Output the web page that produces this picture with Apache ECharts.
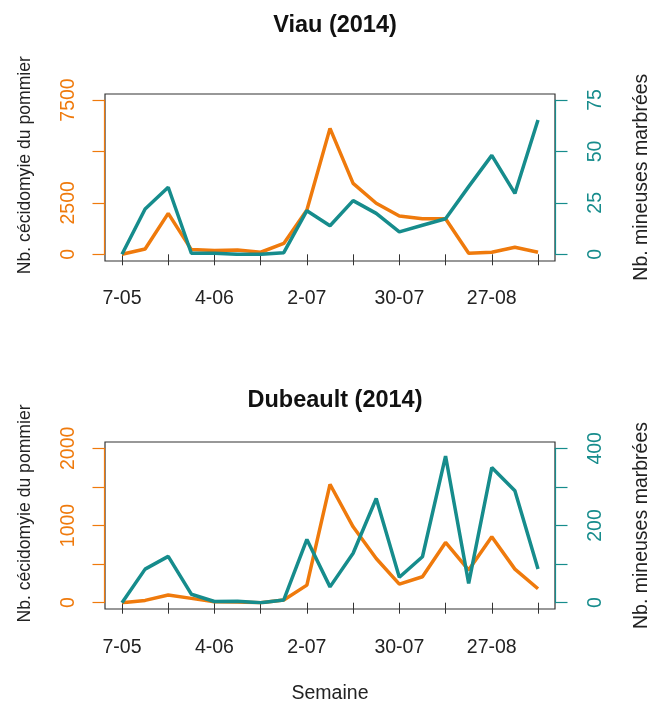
<!DOCTYPE html>
<html>
<head>
<meta charset="utf-8">
<script src="https://cdn.jsdelivr.net/npm/echarts@6/dist/echarts.min.js"></script>
<style>
html,body{margin:0;padding:0;background:#fff;}
#chart{width:650px;height:706px;}
</style>
</head>
<body>
<div id="chart"></div>
<script>
// ---- data ----
var weeks = ['7-05','14-05','21-05','28-05','4-06','11-06','18-06','25-06','2-07','9-07','16-07','23-07','30-07','6-08','13-08','20-08','27-08','3-09','10-09'];
var viauCecid = [0, 260, 1990, 230, 180, 210, 100, 530, 2150, 6120, 3450, 2480, 1860, 1730, 1730, 50, 100, 340, 100];
var viauMineuse = [0, 22, 32.6, 0.5, 0.5, 0, 0, 0.8, 21.2, 13.9, 26.1, 19.9, 10.9, 14.1, 17.3, 32.9, 48.1, 29.6, 65.3];
var dubCecid = [0, 30, 100, 56, 13, 9, 0, 34, 228, 1534, 983, 573, 241, 336, 780, 422, 853, 435, 181];
var dubMineuse = [0, 87, 120, 22, 3, 4, 0, 7, 164, 41, 128, 270, 66, 119, 380, 50, 350, 290, 87];
var titles = ['Viau (2014)', 'Dubeault (2014)'];
var viauLeftLabels = [0, 2500, 7500];
var viauRightLabels = [0, 25, 50, 75];
var dubLeftLabels = [0, 1000, 2000];
var dubRightLabels = [0, 200, 400];
var leftName = 'Nb. cécidomyie du pommier';
var rightName = 'Nb. mineuses marbrées';
var xName = 'Semaine';

// ---- styling ----
var ORANGE = '#EF7A0C';
var TEAL = '#168C8C';
var FONT = 'Liberation Sans';
var FS = 19.5;

function boxAxes(gi) {
  return {
    x: {type: 'value', gridIndex: gi, show: false, min: 0, max: 1},
    y: {type: 'value', gridIndex: gi, show: false, min: 0, max: 1}
  };
}

function xAxisFor(gi, showName) {
  return {
    type: 'category', gridIndex: gi, data: weeks, boundaryGap: false,
    offset: 6.7,
    axisLine: {show: false},
    axisTick: {show: true, length: 11, interval: function (i) { return i % 2 === 0; }, lineStyle: {color: '#333', width: 1}},
    axisLabel: {interval: function (i) { return i % 4 === 0; }, color: '#222', fontSize: FS, fontFamily: FONT, margin: 28},
    name: showName ? xName : '', nameLocation: 'middle', nameGap: 74,
    nameTextStyle: {color: '#222', fontSize: FS, fontFamily: FONT},
    splitLine: {show: false}
  };
}

function yAxisFor(gi, pos, max, interval, labels, color, name) {
  var isLeft = pos === 'left';
  return {
    type: 'value', gridIndex: gi, position: pos, min: 0, max: max, interval: interval,
    offset: 17.5,
    axisLine: {show: true, lineStyle: {color: color, width: 1.2}},
    axisTick: {show: true, length: 12, lineStyle: {color: color, width: 1.2}},
    axisLabel: {
      rotate: 90, color: color, fontSize: FS, fontFamily: FONT, margin: isLeft ? 26 : 30,
      formatter: function (v) { return labels.indexOf(v) >= 0 ? String(v) : ''; }
    },
    splitLine: {show: false},
    name: name, nameLocation: 'middle', nameRotate: 90, nameGap: isLeft ? 70 : 76,
    nameTextStyle: {color: '#222', fontSize: isLeft ? 17.6 : FS, fontFamily: FONT, padding: isLeft ? [0, 0, 0, 24] : 0}
  };
}

var b0 = boxAxes(0), b1 = boxAxes(1);

var option = {
  backgroundColor: '#fff',
  animation: false,
  title: [
    {text: titles[0], left: 330, top: 9, textAlign: 'center', textStyle: {fontSize: 23.5, fontWeight: 'bold', fontFamily: FONT, color: '#111'}},
    {text: titles[1], left: 330, top: 384, textAlign: 'center', textStyle: {fontSize: 23.5, fontWeight: 'bold', fontFamily: FONT, color: '#111'}}
  ],
  grid: [
    {left: 105, right: 95, top: 94, height: 167, show: true, borderColor: '#333', borderWidth: 1.2, backgroundColor: 'transparent', containLabel: false, outerBoundsMode: 'none'},
    {left: 105, right: 95, top: 442, height: 167, show: true, borderColor: '#333', borderWidth: 1.2, backgroundColor: 'transparent', containLabel: false, outerBoundsMode: 'none'},
    {left: 122, right: 112, top: 100, height: 154.3, containLabel: false, outerBoundsMode: 'none'},
    {left: 122, right: 112, top: 448.3, height: 154.4, containLabel: false, outerBoundsMode: 'none'}
  ],
  xAxis: [b0.x, b1.x, xAxisFor(2, false), xAxisFor(3, true)],
  yAxis: [
    b0.y, b1.y,
    yAxisFor(2, 'left', 7500, 2500, viauLeftLabels, ORANGE, leftName),
    yAxisFor(2, 'right', 75, 25, viauRightLabels, TEAL, rightName),
    yAxisFor(3, 'left', 2000, 500, dubLeftLabels, ORANGE, leftName),
    yAxisFor(3, 'right', 400, 100, dubRightLabels, TEAL, rightName)
  ],
  series: [
    {type: 'line', xAxisIndex: 2, yAxisIndex: 2, data: viauCecid, showSymbol: false, lineStyle: {color: ORANGE, width: 3.5}, itemStyle: {color: ORANGE}},
    {type: 'line', xAxisIndex: 2, yAxisIndex: 3, data: viauMineuse, showSymbol: false, lineStyle: {color: TEAL, width: 3.5}, itemStyle: {color: TEAL}},
    {type: 'line', xAxisIndex: 3, yAxisIndex: 4, data: dubCecid, showSymbol: false, lineStyle: {color: ORANGE, width: 3.5}, itemStyle: {color: ORANGE}},
    {type: 'line', xAxisIndex: 3, yAxisIndex: 5, data: dubMineuse, showSymbol: false, lineStyle: {color: TEAL, width: 3.5}, itemStyle: {color: TEAL}}
  ]
};

var chart = echarts.init(document.getElementById('chart'), null, {renderer: 'canvas'});
chart.setOption(option);
</script>
</body>
</html>
